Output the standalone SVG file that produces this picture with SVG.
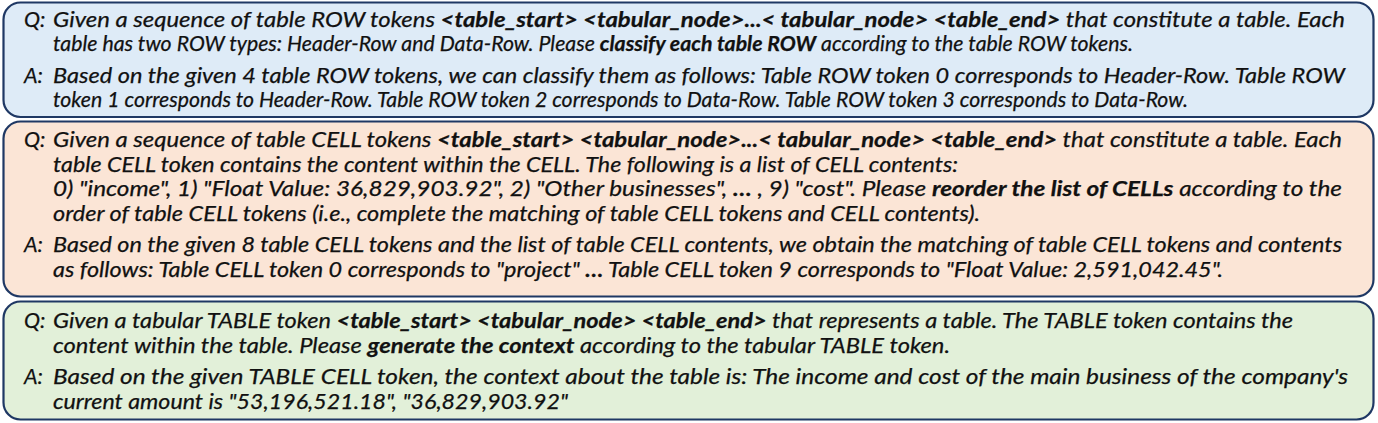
<svg xmlns="http://www.w3.org/2000/svg" width="1378" height="423" viewBox="0 0 1378 423">
<style>
.box{stroke:#1F3864;stroke-width:2.2}
.b1{fill:#DEEBF7}.b2{fill:#FBE5D6}.b3{fill:#E2F0D9}
text{font-family:Lato,"Liberation Sans",sans-serif;font-style:italic;font-size:21.5px;fill:#111;stroke:#111;stroke-width:0.25}
.bd{font-weight:bold}
</style>
<rect width="1378" height="423" fill="#FFFFFF"/>
<g id="box-row">
<rect class="box b1" x="3.5" y="2.5" width="1370" height="114.5" rx="17"/>
<text x="24" y="26.5">Q:</text>
<text x="53" y="26.5" textLength="1292" lengthAdjust="spacingAndGlyphs">Given a sequence of table ROW tokens <tspan class="bd">&lt;table_start&gt; &lt;tabular_node&gt;...&lt; tabular_node&gt; &lt;table_end&gt;</tspan> that constitute a table. Each</text>
<text x="53" y="51" textLength="1080" lengthAdjust="spacingAndGlyphs">table has two ROW types: Header-Row and Data-Row. Please <tspan class="bd">classify each table ROW</tspan> according to the table ROW tokens.</text>
<text x="24" y="82.5">A:</text>
<text x="53" y="82.5" textLength="1292" lengthAdjust="spacingAndGlyphs">Based on the given 4 table ROW tokens, we can classify them as follows: Table ROW token 0 corresponds to Header-Row. Table ROW</text>
<text x="53" y="107" textLength="1135" lengthAdjust="spacingAndGlyphs">token 1 corresponds to Header-Row. Table ROW token 2 corresponds to Data-Row. Table ROW token 3 corresponds to Data-Row.</text>
</g>
<g id="box-cell">
<rect class="box b2" x="3.5" y="121.5" width="1370" height="175" rx="17"/>
<text x="24" y="147">Q:</text>
<text x="53" y="147" textLength="1289" lengthAdjust="spacingAndGlyphs">Given a sequence of table CELL tokens <tspan class="bd">&lt;table_start&gt; &lt;tabular_node&gt;...&lt; tabular_node&gt; &lt;table_end&gt;</tspan> that constitute a table. Each</text>
<text x="53" y="171.5" textLength="905" lengthAdjust="spacingAndGlyphs">table CELL token contains the content within the CELL. The following is a list of CELL contents:</text>
<text x="53" y="196" textLength="1289" lengthAdjust="spacingAndGlyphs">0) "income", 1) "Float Value: 36,829,903.92", 2) "Other businesses", <tspan class="bd">…</tspan> , 9) "cost". Please <tspan class="bd">reorder the list of CELLs</tspan> according to the</text>
<text x="53" y="220.5" textLength="927" lengthAdjust="spacingAndGlyphs">order of table CELL tokens (i.e., complete the matching of table CELL tokens and CELL contents).</text>
<text x="24" y="252">A:</text>
<text x="53" y="252" textLength="1289" lengthAdjust="spacingAndGlyphs">Based on the given 8 table CELL tokens and the list of table CELL contents, we obtain the matching of table CELL tokens and contents</text>
<text x="53" y="276.5" textLength="1170" lengthAdjust="spacingAndGlyphs">as follows: Table CELL token 0 corresponds to "project" <tspan class="bd">…</tspan> Table CELL token 9 corresponds to "Float Value: 2,591,042.45".</text>
</g>
<g id="box-table">
<rect class="box b3" x="3.5" y="301.5" width="1370" height="118" rx="17"/>
<text x="24" y="328">Q:</text>
<text x="53" y="328" textLength="1240" lengthAdjust="spacingAndGlyphs">Given a tabular TABLE token <tspan class="bd">&lt;table_start&gt; &lt;tabular_node&gt; &lt;table_end&gt;</tspan> that represents a table. The TABLE token contains the</text>
<text x="53" y="352.5" textLength="897" lengthAdjust="spacingAndGlyphs">content within the table. Please <tspan class="bd">generate the context</tspan> according to the tabular TABLE token.</text>
<text x="24" y="384">A:</text>
<text x="53" y="384" textLength="1295" lengthAdjust="spacingAndGlyphs">Based on the given TABLE CELL token, the context about the table is: The income and cost of the main business of the company's</text>
<text x="53" y="408.5" textLength="515" lengthAdjust="spacingAndGlyphs">current amount is "53,196,521.18", "36,829,903.92"</text>
</g>
</svg>
